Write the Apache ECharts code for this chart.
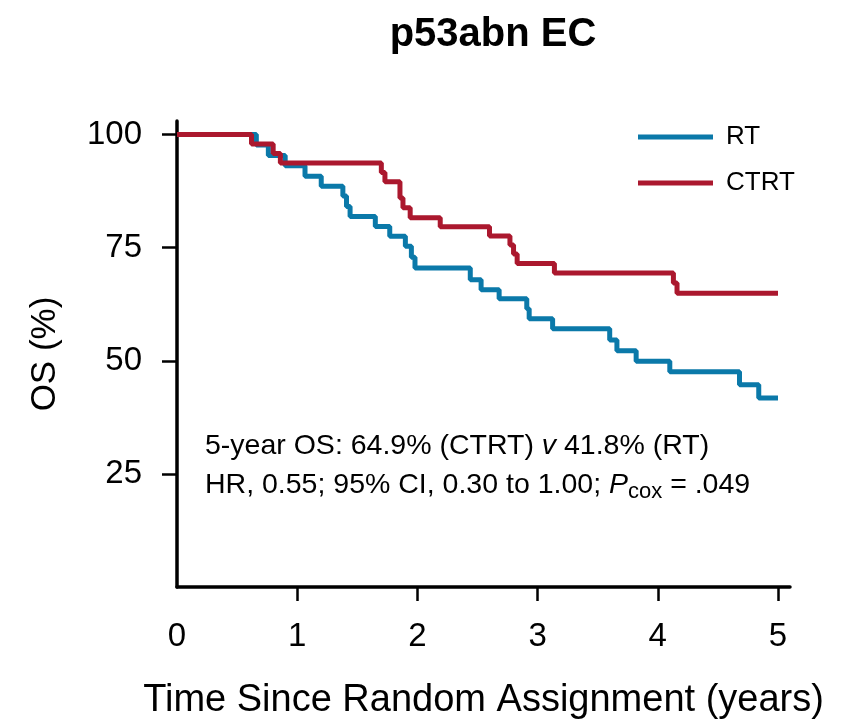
<!DOCTYPE html>
<html>
<head>
<meta charset="utf-8">
<script src="https://cdn.jsdelivr.net/npm/echarts@6/dist/echarts.min.js"></script>
<style>
  html, body { margin: 0; padding: 0; background: #ffffff; }
  #chart { width: 841px; height: 725px; }
</style>
</head>
<body>
<div id="chart"></div>
<script>
// Kaplan-Meier overall survival, step points (years, OS %)
const rtTime   = [0, 0.66, 0.76, 0.90, 1.065, 1.20, 1.38, 1.41, 1.44, 1.65, 1.77, 1.90, 1.95, 1.98, 2.44, 2.53, 2.68, 2.91, 2.93, 3.125, 3.60, 3.66, 3.82, 4.10, 4.68, 4.84, 5.0];
const rtOS     = [100, 97.7, 95.4, 93.1, 90.8, 88.6, 86.4, 84.1, 81.9, 79.7, 77.5, 75.3, 72.9, 70.5, 67.9, 65.7, 63.7, 61.5, 59.3, 57.1, 54.6, 52.2, 49.9, 47.6, 44.7, 41.8, 41.8];
const ctrtTime = [0, 0.62, 0.80, 0.86, 1.70, 1.73, 1.855, 1.88, 1.94, 2.19, 2.60, 2.77, 2.80, 2.83, 3.14, 4.13, 4.16, 5.0];
const ctrtOS   = [100, 97.9, 95.8, 93.7, 91.6, 89.6, 86.0, 83.8, 81.6, 79.6, 77.6, 75.6, 73.6, 71.5, 69.4, 67.2, 64.9, 64.9];

const seriesNames = ['RT', 'CTRT'];
const xTickValues = [0, 1, 2, 3, 4, 5];
const yTickValues = [25, 50, 75, 100];

const FONT = '"Liberation Sans", Arial, sans-serif';
const BLUE = '#0b79a9';
const RED = '#ab182e';

const pairs = (t, v) => t.map((x, i) => [x, v[i]]);

const chart = echarts.init(document.getElementById('chart'), null, { renderer: 'canvas' });

chart.setOption({
  backgroundColor: '#ffffff',
  animation: false,
  title: {
    text: 'p53abn EC',
    left: 488,
    textAlign: 'center',
    top: 10,
    textStyle: { fontFamily: FONT, fontWeight: 'bold', fontSize: 40, color: '#000' }
  },
  legend: {
    orient: 'vertical',
    left: 638,
    top: 122,
    padding: 0,
    itemGap: 16,
    itemWidth: 75,
    itemHeight: 5,
    icon: 'rect',
    data: seriesNames,
    textStyle: { fontFamily: FONT, fontSize: 26, color: '#000', lineHeight: 30, padding: [0, 0, 0, 8] }
  },
  grid: { left: 177, right: 51, top: 121, bottom: 138, containLabel: false },
  xAxis: {
    type: 'value',
    min: 0,
    max: 5.1,
    interval: 1,
    name: 'Time Since Random Assignment (years)',
    nameLocation: 'middle',
    nameGap: 95,
    nameTextStyle: { fontFamily: FONT, fontSize: 38, color: '#000' },
    axisLine: { lineStyle: { color: '#000', width: 3.5 } },
    axisTick: { show: true, inside: false, length: 14, lineStyle: { color: '#000', width: 2.5 }, customValues: [1, 2, 3, 4, 5] },
    axisLabel: { fontFamily: FONT, fontSize: 33, color: '#000', margin: 33, customValues: xTickValues },
    splitLine: { show: false }
  },
  yAxis: {
    type: 'value',
    min: 0,
    max: 103,
    name: 'OS (%)',
    nameLocation: 'middle',
    nameGap: 114,
    nameTextStyle: { fontFamily: FONT, fontSize: 35, color: '#000' },
    axisLine: { lineStyle: { color: '#000', width: 3.5 } },
    axisTick: { show: true, inside: false, length: 15, lineStyle: { color: '#000', width: 2.5 }, customValues: yTickValues },
    axisLabel: { fontFamily: FONT, fontSize: 33, color: '#000', margin: 35, customValues: yTickValues },
    splitLine: { show: false }
  },
  series: [
    {
      name: seriesNames[0],
      type: 'line',
      step: 'end',
      data: pairs(rtTime, rtOS),
      showSymbol: false,
      color: BLUE,
      lineStyle: { color: BLUE, width: 5 },
      z: 2
    },
    {
      name: seriesNames[1],
      type: 'line',
      step: 'end',
      data: pairs(ctrtTime, ctrtOS),
      showSymbol: false,
      color: RED,
      lineStyle: { color: RED, width: 5 },
      z: 3
    }
  ],
  graphic: [
    {
      type: 'text',
      left: 205,
      top: 427,
      style: {
        text: '5-year OS: 64.9% (CTRT) {i|v} 41.8% (RT)\nHR, 0.55; 95% CI, 0.30 to 1.00; {i|P}{sub|cox} = .049',
        fontFamily: FONT,
        fontSize: 28.5,
        lineHeight: 39,
        fill: '#000',
        rich: {
          i: { fontFamily: FONT, fontSize: 28.5, fontStyle: 'italic', lineHeight: 39, fill: '#000' },
          sub: { fontFamily: FONT, fontSize: 22, lineHeight: 39, padding: [12, 0, 0, 0], fill: '#000' }
        }
      }
    }
  ]
});
</script>
</body>
</html>
